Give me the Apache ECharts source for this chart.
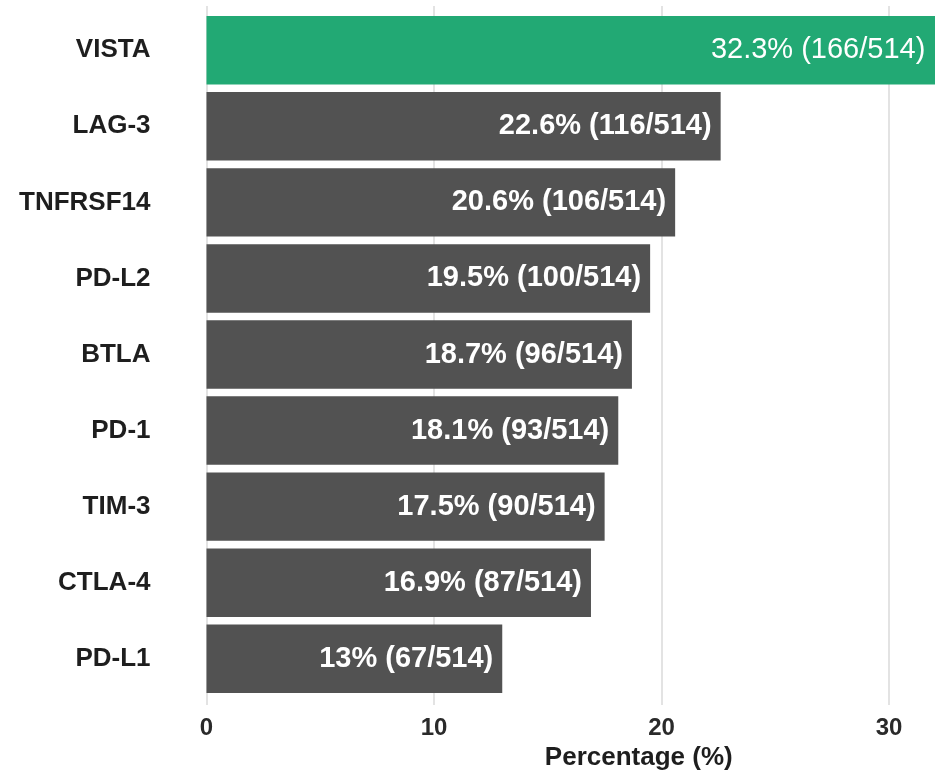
<!DOCTYPE html>
<html>
<head>
<meta charset="utf-8">
<title>Immune checkpoint expression</title>
<script src="https://cdn.jsdelivr.net/npm/echarts@6/dist/echarts.min.js"></script>
<style>
  html, body { margin: 0; padding: 0; background: #ffffff; }
  #chart { width: 935px; height: 774px; }
</style>
</head>
<body>
<div id="chart"></div>
<script>
// Checkpoint genes, top to bottom
const categories = ['VISTA', 'LAG-3', 'TNFRSF14', 'PD-L2', 'BTLA', 'PD-1', 'TIM-3', 'CTLA-4', 'PD-L1'];
// Share of samples (%)
const percents = [32.3, 22.6, 20.6, 19.5, 18.7, 18.1, 17.5, 16.9, 13];
// Sample counts out of the cohort
const counts = [166, 116, 106, 100, 96, 93, 90, 87, 67];
const total = 514;
const xTicks = [0, 10, 20, 30];

const FONT = '"Liberation Sans", Arial, Helvetica, sans-serif';
const GREEN = '#22a974';
const GREY = '#525252';

const xMin = 0, xMax = 38, xStep = 10;

const barData = percents.map((v, i) => {
  const top = i === 0;
  return {
    value: v,
    itemStyle: { color: top ? GREEN : GREY },
    label: {
      fontWeight: top ? 'normal' : 'bold',
      distance: top ? 16 : 9
    }
  };
});

const chart = echarts.init(document.getElementById('chart'), null, { renderer: 'canvas' });

// The plotting panel runs past the right edge of the canvas, so both grids get an explicit width
// and are not shrunk to keep their labels inside the container.
const panelLeft = 206.5, panelWidth = 864.5;

chart.setOption({
  backgroundColor: '#ffffff',
  animation: false,
  grid: [
    // panel that carries the vertical grid lines and the x axis
    { left: panelLeft, width: panelWidth, top: 6, height: 699, outerBoundsMode: 'none', containLabel: false },
    // panel that carries the bars
    { left: panelLeft, width: panelWidth, top: 12.2, height: 684.6, outerBoundsMode: 'none', containLabel: false }
  ],
  xAxis: [
    {
      gridIndex: 0,
      type: 'value',
      min: xMin,
      max: xMax,
      interval: xStep,
      name: 'Percentage (%)',
      nameLocation: 'middle',
      nameGap: 37,
      nameTextStyle: { fontFamily: FONT, fontSize: 26, fontWeight: 'bold', color: '#1e1e1e' },
      axisLine: { show: false },
      axisTick: { show: false },
      axisLabel: {
        margin: 11,
        fontFamily: FONT,
        fontSize: 24,
        fontWeight: 'bold',
        color: '#2a2a2a',
        formatter: v => (xTicks.indexOf(v) >= 0 ? String(v) : '')
      },
      splitLine: { show: true, lineStyle: { color: '#e3e3e3', width: 2 } }
    },
    {
      gridIndex: 1,
      type: 'value',
      min: xMin,
      max: xMax,
      interval: xStep,
      show: false
    }
  ],
  yAxis: [
    {
      gridIndex: 0,
      type: 'value',
      min: 0,
      max: 1,
      show: false
    },
    {
      gridIndex: 1,
      type: 'category',
      data: categories,
      inverse: true,
      axisLine: { show: false },
      axisTick: { show: false },
      splitLine: { show: false },
      axisLabel: {
        margin: 56,
        fontFamily: FONT,
        fontSize: 26,
        fontWeight: 'bold',
        color: '#1e1e1e'
      }
    }
  ],
  series: [
    {
      type: 'bar',
      xAxisIndex: 1,
      yAxisIndex: 1,
      data: barData,
      barWidth: '90%',
      label: {
        show: true,
        position: 'insideRight',
        fontFamily: FONT,
        fontSize: 29,
        color: '#ffffff',
        formatter: p => `${percents[p.dataIndex]}% (${counts[p.dataIndex]}/${total})`
      }
    }
  ]
});
</script>
</body>
</html>
